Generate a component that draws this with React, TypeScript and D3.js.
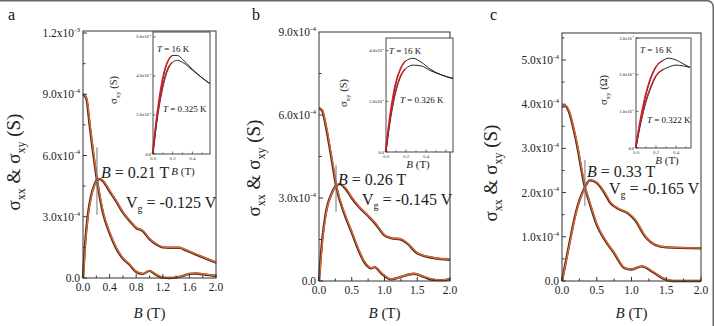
import React from 'react';
import * as d3 from 'd3';

// sigma values are in units of 1e-4 S, B in tesla
// panel a
const aXxB = [0, 0.05, 0.1, 0.15, 0.21, 0.3, 0.4, 0.5, 0.6, 0.7, 0.8, 0.9, 1.0, 1.1, 1.2, 1.3, 1.4, 1.5, 1.6, 1.7, 1.8, 1.9, 2.0];
const aXx = [9.0, 8.8, 7.5, 6.2, 4.8, 3.2, 2.2, 1.45, 0.95, 0.65, 0.3, 0.2, 0.35, 0.15, 0.02, 0.0, 0.02, 0.1, 0.2, 0.22, 0.18, 0.14, 0.1];
const aXyB = [0, 0.03, 0.07, 0.12, 0.17, 0.21, 0.25, 0.3, 0.4, 0.5, 0.6, 0.7, 0.8, 0.9, 1.0, 1.1, 1.2, 1.3, 1.45, 1.55, 1.7, 1.85, 2.0];
const aXy = [0, 1.6, 3.0, 4.0, 4.55, 4.8, 4.85, 4.75, 4.25, 3.75, 3.2, 2.8, 2.45, 2.3, 1.9, 1.65, 1.5, 1.48, 1.48, 1.35, 1.15, 0.95, 0.75];
const aInB = [0, 0.05, 0.1, 0.15, 0.2, 0.25, 0.3, 0.4, 0.5, 0.58];
const aIn16 = [0, 2.2, 3.8, 4.7, 5.05, 5.05, 4.85, 4.35, 3.9, 3.6];
const aInLow = [0, 2.0, 3.4, 4.3, 4.7, 4.8, 4.7, 4.3, 3.9, 3.6];

// panel b
const bXxB = [0, 0.05, 0.1, 0.2, 0.26, 0.4, 0.5, 0.6, 0.7, 0.8, 0.85, 0.95, 1.1, 1.25, 1.45, 1.6, 1.75, 1.9, 2.0];
const bXx = [6.25, 6.15, 5.65, 4.3, 3.45, 2.35, 1.75, 1.13, 0.65, 0.46, 0.5, 0.28, 0.06, 0.15, 0.26, 0.15, 0.04, 0.03, 0.08];
const bXyB = [0, 0.05, 0.1, 0.2, 0.26, 0.32, 0.4, 0.5, 0.6, 0.75, 0.85, 1.0, 1.1, 1.25, 1.35, 1.5, 1.75, 2.0];
const bXy = [0, 1.5, 2.4, 3.2, 3.45, 3.5, 3.35, 3.0, 2.7, 2.35, 2.1, 1.65, 1.55, 1.5, 1.35, 1.0, 0.83, 0.77];
const bInB = [0, 0.05, 0.1, 0.15, 0.2, 0.27, 0.35, 0.45, 0.55, 0.67];
const bIn16 = [0, 1.6, 2.7, 3.3, 3.6, 3.7, 3.55, 3.25, 3.05, 2.9];
const bInLow = [0, 1.4, 2.4, 3.0, 3.3, 3.43, 3.4, 3.2, 3.05, 2.9];

// panel c
const cXxB = [0, 0.05, 0.1, 0.2, 0.33, 0.4, 0.5, 0.6, 0.75, 0.9, 1.0, 1.15, 1.3, 1.45, 1.6, 1.8, 2.0];
const cXx = [3.94, 3.96, 3.83, 3.2, 2.12, 1.75, 1.27, 0.97, 0.63, 0.29, 0.26, 0.33, 0.21, 0.06, 0.0, 0.0, 0.0];
const cXyB = [0, 0.1, 0.2, 0.33, 0.4, 0.5, 0.6, 0.7, 0.8, 0.95, 1.05, 1.2, 1.35, 1.5, 2.0];
const cXy = [0, 0.8, 1.55, 2.12, 2.28, 2.22, 2.02, 1.76, 1.64, 1.53, 1.38, 1.0, 0.81, 0.76, 0.74];
const cInB = [0, 0.05, 0.1, 0.15, 0.2, 0.28, 0.32, 0.4, 0.47, 0.54];
const cIn16 = [0, 0.8, 1.45, 1.9, 2.2, 2.4, 2.45, 2.4, 2.3, 2.2];
const cInLow = [0, 0.7, 1.25, 1.65, 1.95, 2.15, 2.2, 2.26, 2.24, 2.2];

// tick labels: [value, mantissa, exponent]
const aYTicks: [number, string, string][] = [[0, '0.0', ''], [3, '3.0x10', '-4'], [6, '6.0x10', '-4'], [9, '9.0x10', '-4'], [12, '1.2x10', '-3']];
const bYTicks: [number, string, string][] = [[0, '0.0', ''], [3, '3.0x10', '-4'], [6, '6.0x10', '-4'], [9, '9.0x10', '-4']];
const cYTicks: [number, string, string][] = [[0, '0.0', ''], [1, '1.0x10', '-4'], [2, '2.0x10', '-4'], [3, '3.0x10', '-4'], [4, '4.0x10', '-4'], [5, '5.0x10', '-4']];
const aInYTicks: [number, string, string][] = [[0, '0.0', ''], [2, '2.0x10', '-4'], [4, '4.0x10', '-4'], [6, '6.0x10', '-4']];
const bInYTicks: [number, string, string][] = [[0, '0.0', ''], [2, '2.0x10', '-4'], [4, '4.0x10', '-4']];
const cInYTicks: [number, string, string][] = [[0, '0.0', ''], [1, '1.0x10', '-4'], [2, '2.0x10', '-4'], [3, '3.0x10', '-4']];

const panels = [
  {
    label: 'a', box: [83, 216, 31, 278], yMax: 12.1, xTicks: [0, 0.4, 0.8, 1.2, 1.6, 2.0], xMinor: 0.2, yTicks: aYTicks, yMinor: 1.5,
    xx: [aXxB, aXx], xy: [aXyB, aXy], cross: 0.21, mark: [3.1, 6.4], crossText: '0.21', vg: '-0.125',
    bText: [101, 178], vgText: [126, 208], yTitle: [20, 162], labelX: 8,
    inset: { box: [153, 210, 32, 154], xMax: 0.58, yMax: 6.25, yTicks: aInYTicks, B: aInB, hi: aIn16, lo: aInLow, redEnd: 0.2,
      t16: [157, 52], tLow: [163, 112], tLowText: '0.325', yTitle: [117, 90], unit: 'S', xTitle: [183, 175] },
  },
  {
    label: 'b', box: [319, 450, 32, 281], yMax: 9.0, xTicks: [0, 0.5, 1.0, 1.5, 2.0], xMinor: 0.25, yTicks: bYTicks, yMinor: 1.5,
    xx: [bXxB, bXx], xy: [bXyB, bXy], cross: 0.26, mark: [2.5, 4.2], crossText: '0.26', vg: '-0.145',
    bText: [338, 185], vgText: [362, 205], yTitle: [260, 168], labelX: 252,
    inset: { box: [386, 453, 38, 152], xMax: 0.67, yMax: 4.5, yTicks: bInYTicks, B: bInB, hi: bIn16, lo: bInLow, redEnd: 0.2,
      t16: [389, 54], tLow: [400, 103], tLowText: '0.326', yTitle: [347, 93], unit: 'S', xTitle: [418, 168] },
  },
  {
    label: 'c', box: [562, 701, 33, 281], yMax: 5.61, xTicks: [0, 0.5, 1.0, 1.5, 2.0], xMinor: 0.25, yTicks: cYTicks, yMinor: 0.5,
    xx: [cXxB, cXx], xy: [cXyB, cXy], cross: 0.33, mark: [1.7, 2.74], crossText: '0.33', vg: '-0.165',
    bText: [587, 177], vgText: [609, 194], yTitle: [497, 173], labelX: 490,
    inset: { box: [636, 691, 38, 148], xMax: 0.55, yMax: 3.0, yTicks: cInYTicks, B: cInB, hi: cIn16, lo: cInLow, redEnd: 0.28,
      t16: [640, 53], tLow: [647, 123], tLowText: '0.322', yTitle: [607, 90], unit: 'Ω', xTitle: [667, 164] },
  },
];

const serif = '"Liberation Serif", "Times New Roman", serif';

const TickLabel = ({ x, y, m, e, size, anchor }: any) => (
  <text x={x} y={y} fontSize={size} textAnchor={anchor} fontFamily={serif} fill="#222">
    {m}
    {e && <tspan fontSize={size * 0.62} dy={-size * 0.45}>{e}</tspan>}
  </text>
);

const Panel = ({ p }: any) => {
  const [x0, x1, y0, y1] = p.box;
  const x = d3.scaleLinear().domain([0, 2]).range([x0, x1]);
  const y = d3.scaleLinear().domain([0, p.yMax]).range([y1, y0]);
  const line = d3.line<[number, number]>().x(d => x(d[0])).y(d => y(d[1])).curve(d3.curveMonotoneX);
  const pts = (s: number[][]) => s[0].map((b, i) => [b, s[1][i]] as [number, number]);
  const minorX = d3.range(0, 2.0001, p.xMinor);
  const minorY = d3.range(0, p.yMax, p.yMinor);

  const ins = p.inset;
  const [ix0, ix1, iy0, iy1] = ins.box;
  const ix = d3.scaleLinear().domain([0, ins.xMax]).range([ix0, ix1]);
  const iy = d3.scaleLinear().domain([0, ins.yMax]).range([iy1, iy0]);
  const iline = d3.line<[number, number]>().x(d => ix(d[0])).y(d => iy(d[1])).curve(d3.curveMonotoneX);
  const hi = ins.B.map((b: number, i: number) => [b, ins.hi[i]] as [number, number]);
  const lo = ins.B.map((b: number, i: number) => [b, ins.lo[i]] as [number, number]);
  const redHi = hi.filter((d: number[]) => d[0] <= ins.redEnd + 1e-9);
  const redLo = lo.filter((d: number[]) => d[0] <= ins.redEnd + 1e-9);

  return (
    <g>
      <text x={p.labelX} y={20} fontSize={16} fontFamily={serif} fill="#111">{p.label}</text>

      {/* curves: dark trace under orange trace */}
      {[p.xx, p.xy].map((s: number[][], i: number) => (
        <g key={i}>
          <path d={line(pts(s)) || ''} fill="none" stroke="#4a2a22" strokeWidth={2.4} />
          <path d={line(pts(s)) || ''} fill="none" stroke="#e8692a" strokeWidth={1.3} transform="translate(0.4,-0.3)" />
        </g>
      ))}

      {/* frame and ticks */}
      <rect x={x0} y={y0} width={x1 - x0} height={y1 - y0} fill="none" stroke="#333" strokeWidth={1} />
      {minorX.map((v: number, i: number) => (
        <line key={'mx' + i} x1={x(v)} x2={x(v)} y1={y1} y2={y1 - (p.xTicks.some((t: number) => Math.abs(t - v) < 1e-6) ? 4 : 2.5)} stroke="#333" />
      ))}
      {minorY.map((v: number, i: number) => (
        <line key={'my' + i} x1={x0} x2={x0 + (p.yTicks.some((t: any) => Math.abs(t[0] - v) < 1e-6) ? 4 : 2.5)} y1={y(v)} y2={y(v)} stroke="#333" />
      ))}
      {p.xTicks.map((v: number) => (
        <text key={'xl' + v} x={x(v)} y={y1 + 13} fontSize={11.5} textAnchor="middle" fontFamily={serif} fill="#222">{v.toFixed(1)}</text>
      ))}
      {p.yTicks.map((t: any) => (
        <TickLabel key={'yl' + t[0]} x={x0 - 3} y={y(t[0]) + 4} m={t[1]} e={t[2]} size={11.5} anchor="end" />
      ))}
      <text x={(x0 + x1) / 2} y={318} fontSize={15} textAnchor="middle" fontFamily={serif} fill="#222">
        <tspan fontStyle="italic">B</tspan> (T)
      </text>
      <text transform={`translate(${p.yTitle[0]},${p.yTitle[1]}) rotate(-90)`} fontSize={19} textAnchor="middle" fontFamily={serif} fill="#222">
        σ<tspan fontSize={12} dy={5}>xx</tspan><tspan dy={-5}> &amp; σ</tspan><tspan fontSize={12} dy={5}>xy</tspan><tspan dy={-5}> (S)</tspan>
      </text>

      {/* crossing marker and annotations */}
      <line x1={x(p.cross)} x2={x(p.cross)} y1={y(p.mark[1])} y2={y(p.mark[0])} stroke="#777" strokeWidth={1} />
      <text x={p.bText[0]} y={p.bText[1]} fontSize={16} fontFamily={serif} fill="#222">
        <tspan fontStyle="italic">B</tspan> = {p.crossText} T
      </text>
      <text x={p.vgText[0]} y={p.vgText[1]} fontSize={16} fontFamily={serif} fill="#222">
        V<tspan fontSize={10} dy={4}>g</tspan><tspan dy={-4}> = {p.vg} V</tspan>
      </text>

      {/* inset */}
      <rect x={ix0} y={iy0} width={ix1 - ix0} height={iy1 - iy0} fill="#fff" stroke="#333" strokeWidth={0.9} />
      <path d={iline(hi) || ''} fill="none" stroke="#111" strokeWidth={0.9} />
      <path d={iline(lo) || ''} fill="none" stroke="#111" strokeWidth={0.9} />
      <path d={iline(redHi) || ''} fill="none" stroke="#d0202a" strokeWidth={1.3} transform="translate(-0.6,0)" />
      <path d={iline(redLo) || ''} fill="none" stroke="#d0202a" strokeWidth={1.3} transform="translate(-0.6,0)" />
      {d3.range(0, ins.xMax, 0.1).map((v: number, i: number) => (
        <line key={'ixt' + i} x1={ix(v)} x2={ix(v)} y1={iy1} y2={iy1 - (i % 2 === 0 ? 2.5 : 1.5)} stroke="#333" strokeWidth={0.7} />
      ))}
      {[0, 0.2, 0.4].map((v: number) => (
        <text key={'ixl' + v} x={ix(v)} y={iy1 + 6} fontSize={5} textAnchor="middle" fontFamily={serif} fill="#444">{v.toFixed(1)}</text>
      ))}
      {ins.yTicks.map((t: any) => (
        <g key={'iyl' + t[0]}>
          <line x1={ix0} x2={ix0 + 2.5} y1={iy(t[0])} y2={iy(t[0])} stroke="#333" strokeWidth={0.7} />
          <TickLabel x={ix0 - 2} y={iy(t[0]) + 1.5} m={t[1]} e={t[2]} size={4.5} anchor="end" />
        </g>
      ))}
      <text x={ins.t16[0]} y={ins.t16[1]} fontSize={9} fontFamily={serif} fill="#111">
        <tspan fontStyle="italic">T</tspan> = 16 K
      </text>
      <text x={ins.tLow[0]} y={ins.tLow[1]} fontSize={9} fontFamily={serif} fill="#111">
        <tspan fontStyle="italic">T</tspan> = {ins.tLowText} K
      </text>
      <text transform={`translate(${ins.yTitle[0]},${ins.yTitle[1]}) rotate(-90)`} fontSize={10.5} textAnchor="middle" fontFamily={serif} fill="#222">
        σ<tspan fontSize={7} dy={3}>xy</tspan><tspan dy={-3}> ({ins.unit})</tspan>
      </text>
      <text x={ins.xTitle[0]} y={ins.xTitle[1]} fontSize={11} textAnchor="middle" fontFamily={serif} fill="#222">
        <tspan fontStyle="italic">B</tspan> (T)
      </text>
    </g>
  );
};

export default function App() {
  return (
    <svg width={714} height={326} style={{ position: 'absolute', left: 0, top: 0, background: '#fff' }}>
      <path d="M0,0.75 H707 A6,6 0 0 1 713.25,7 V326" fill="none" stroke="#666" strokeWidth={1.5} />
      {panels.map(p => <Panel key={p.label} p={p} />)}
    </svg>
  );
}
